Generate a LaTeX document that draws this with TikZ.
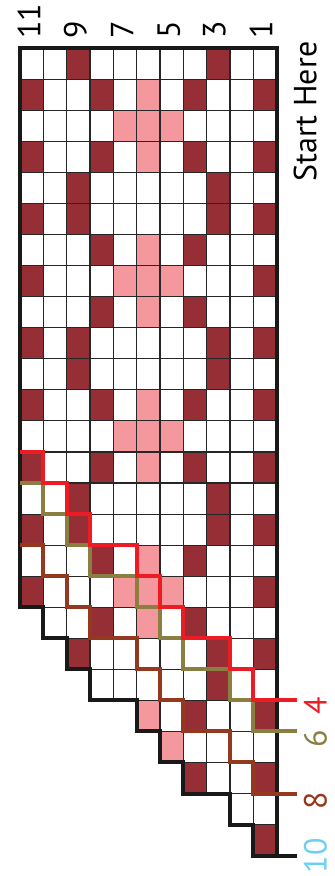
\documentclass[tikz,border=0pt]{standalone}
\usepackage{fontspec}
\setmainfont{PT Sans}

\begin{document}
\begin{tikzpicture}[x=23.33pt, y=-31.05pt,
		font=\fontsize{32}{32}\selectfont,
		gridline/.style={line width=1.1pt, black!85},
		border/.style={line width=4pt, black!90, line join=miter},
		sizeline/.style={line width=4pt, line join=miter},
		numlabel/.style={rotate=90, inner sep=0pt}]
		
		% ==========================================
		% COLOURS & FRAME
		% ==========================================
		\definecolor{knitdark}{HTML}{962E35}
		\definecolor{knitpink}{HTML}{F5989E}
		\definecolor{sizered}{HTML}{ED1C24}
		\definecolor{sizeolive}{HTML}{8A7F40}
		\definecolor{sizebrown}{HTML}{94391F}
		\definecolor{sizeblue}{HTML}{6DCFF6}
		
		\useasboundingbox (-0.857,-1.556) rectangle (13.50,26.657);
		
		% number of rows in each column, left to right
		\def\colheights{{18,19,20,21,21,22,23,24,24,25,26}}
		
		% ==========================================
		% COLOURED STITCHES (motif repeats every 10 rows)
		% ==========================================
		\foreach \k in {0,10,20} {
			\foreach \c/\r in {2/0,8/0, 0/1,3/1,7/1,10/1, 0/3,3/3,7/3,10/3, 2/4,8/4,
				0/5,2/5,8/5,10/5, 3/6,7/6, 0/7,10/7, 3/8,7/8, 0/9,2/9,8/9,10/9} {
				\pgfmathtruncatemacro{\rr}{\r+\k}
				\pgfmathtruncatemacro{\h}{\colheights[\c]}
				\ifnum\rr<\h \fill[knitdark] (\c,\rr) rectangle ++(1,1); \fi
			}
			\foreach \c/\r in {5/1, 4/2,5/2,6/2, 5/3, 5/6, 4/7,5/7,6/7, 5/8} {
				\pgfmathtruncatemacro{\rr}{\r+\k}
				\pgfmathtruncatemacro{\h}{\colheights[\c]}
				\ifnum\rr<\h \fill[knitpink] (\c,\rr) rectangle ++(1,1); \fi
			}
		}
		
		% ==========================================
		% GRID
		% ==========================================
		\foreach \c in {0,...,10} {
			\pgfmathtruncatemacro{\h}{\colheights[\c]}
			\draw[gridline] (\c+1,0) -- (\c+1,\h);
			\foreach \r in {1,...,\h}
				\draw[gridline] (\c,\r) -- (\c+1,\r);
		}
		
		% stepped lower edge, shifted up for the smaller sizes
		\def\stairpath{(0,18) -- (1,18) -- (1,19) -- (2,19) -- (2,20) -- (3,20) -- (3,21) -- (5,21)
			-- (5,22) -- (6,22) -- (6,23) -- (7,23) -- (7,24) -- (9,24) -- (9,25) -- (10,25)
			-- (10,26) -- (11.87,26)}
		
		\draw[border] (11,26) -- (11,0) -- (0,0) -- \stairpath;
		
		% ==========================================
		% SIZE LINES
		% ==========================================
		\draw[sizeline, sizebrown, yshift=2*31.05pt] \stairpath;
		\draw[sizeline, sizeolive, yshift=4*31.05pt] \stairpath;
		\draw[sizeline, sizered, yshift=5*31.05pt] \stairpath;
		
		% ==========================================
		% LABELS
		% ==========================================
		\node[numlabel, anchor=west] (row11) at (0.38,-0.3) {11};
		\node[numlabel, anchor=west] (row9) at (2.38,-0.3) {9};
		\node[numlabel, anchor=west] (row7) at (4.38,-0.3) {7};
		\node[numlabel, anchor=west] (row5) at (6.38,-0.3) {5};
		\node[numlabel, anchor=west] (row3) at (8.33,-0.3) {3};
		\node[numlabel, anchor=west] (row1) at (10.33,-0.3) {1};
		
		\node[numlabel] (start) at (12.22,2.04) {Start Here};
		
		\node[numlabel, text=sizered] (size4) at (12.66,21.17) {4};
		\node[numlabel, text=sizeolive] (size6) at (12.66,22.24) {6};
		\node[numlabel, text=sizebrown] (size8) at (12.66,24.22) {8};
		\node[numlabel, text=sizeblue] (size10) at (12.66,26.0) {10};
		
	\end{tikzpicture}
\end{document}
